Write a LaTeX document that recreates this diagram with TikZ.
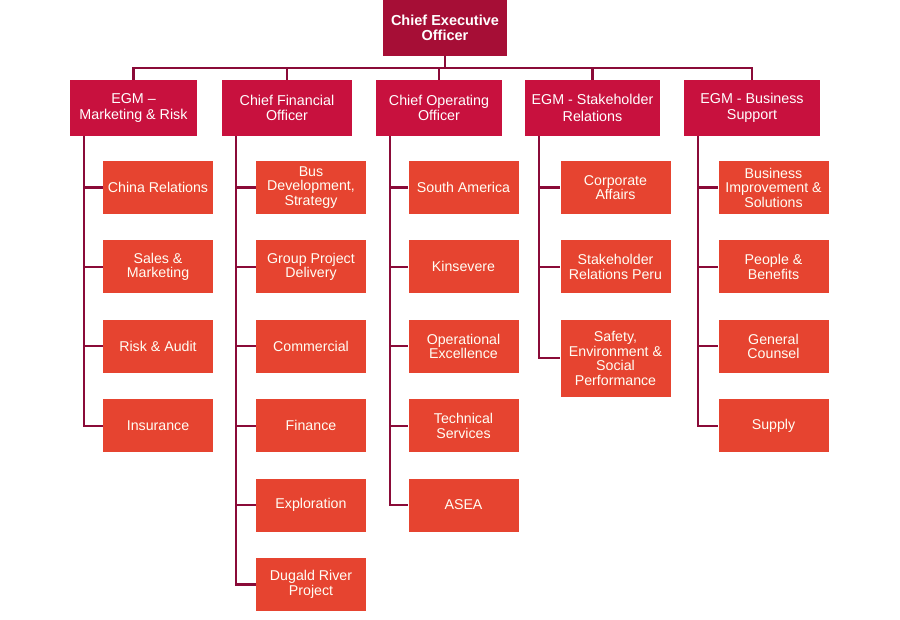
\documentclass[tikz,border=0pt]{standalone}
\usepackage{fontspec}
\setmainfont{Liberation Sans}
\usepackage{tikz}
\usetikzlibrary{calc, positioning}
\definecolor{ceoRed}{HTML}{A60E36}
\definecolor{headRed}{HTML}{C8113E}
\definecolor{unitRed}{HTML}{E64430}
\definecolor{linkMaroon}{HTML}{8A0B38}
\tikzset{
  ceobox/.style  = {fill=ceoRed, text=white, align=center, inner sep=2pt,
                    font=\fontsize{14.5}{15.5}\selectfont\bfseries,
                    minimum width=124pt, minimum height=56pt},
  head/.style    = {fill=headRed, text=white, align=center, inner sep=2pt,
                    font=\fontsize{14.3}{15.5}\selectfont, minimum height=56pt},
  unit/.style    = {fill=unitRed, text=white!96!yellow, align=center, inner sep=2pt,
                    font=\fontsize{14.2}{14.5}\selectfont,
                    minimum width=110pt, minimum height=53pt},
  link/.style    = {draw=linkMaroon, line width=2.2pt}
}
\begin{document}
\begin{tikzpicture}[x=1pt, y=1pt, node distance=26pt]
  \useasboundingbox (0,0) rectangle (900,-620);

  % top of the chart
  \node[ceobox] (ceo) at (445,-28) {Chief Executive\\Officer};
  \node[head, minimum width=127pt] (mr)  at (133.5,-108) {EGM --\\Marketing \& Risk};
  \node[head, minimum width=130pt] (cfo) at (287,-108)   {Chief Financial\\Officer};
  \node[head, minimum width=126pt] (coo) at (439,-108)   {Chief Operating\\Officer};
  \node[head, minimum width=135pt] (sr)  at (592.5,-108) {EGM - Stakeholder\\[2pt]Relations};
  \node[head, minimum width=136pt] (bs)  at (752,-108)   {EGM - Business\\Support};

  % marketing & risk
  \node[unit] (mr1) at (158,-187.5) {China Relations};
  \node[unit, below=of mr1] (mr2) {Sales \&\\Marketing};
  \node[unit, below=of mr2] (mr3) {Risk \& Audit};
  \node[unit, below=of mr3] (mr4) {Insurance};

  % finance
  \node[unit] (cf1) at (311,-187.5) {Bus\\Development,\\Strategy};
  \node[unit, below=of cf1] (cf2) {Group Project\\Delivery};
  \node[unit, below=of cf2] (cf3) {Commercial};
  \node[unit, below=of cf3] (cf4) {Finance};
  \node[unit, below=of cf4] (cf5) {Exploration};
  \node[unit, below=of cf5] (cf6) {Dugald River\\Project};

  % operations
  \node[unit] (co1) at (463.5,-187.5) {South America};
  \node[unit, below=of co1] (co2) {Kinsevere};
  \node[unit, below=of co2] (co3) {Operational\\Excellence};
  \node[unit, below=of co3] (co4) {Technical\\Services};
  \node[unit, below=of co4] (co5) {ASEA};

  % stakeholder relations
  \node[unit] (st1) at (615.5,-187.5) {Corporate\\Affairs};
  \node[unit, below=of st1] (st2) {Stakeholder\\Relations Peru};
  \node[unit, below=of st2, minimum height=77pt] (st3) {Safety,\\Environment \&\\Social\\Performance};

  % business support
  \node[unit] (bs1) at (773.5,-187.5) {Business\\Improvement \&\\Solutions};
  \node[unit, below=of bs1] (bs2) {People \&\\Benefits};
  \node[unit, below=of bs2] (bs3) {General\\Counsel};
  \node[unit, below=of bs3] (bs4) {Supply};

  % connectors
  \coordinate (bar) at ([yshift=-12pt]ceo.south);
  \draw[link] (ceo.south) -- (bar);
  \draw[link] (mr.north) |- (bs.north |- bar) -- (bs.north);
  \foreach \m in {cfo, coo, sr} \draw[link] (\m.north) -- (\m.north |- bar);

  \foreach \h/\last/\rest in {mr/mr4/{mr1,mr2,mr3},
                              cfo/cf6/{cf1,cf2,cf3,cf4,cf5},
                              coo/co5/{co1,co2,co3,co4},
                              sr/st3/{st1,st2},
                              bs/bs4/{bs1,bs2,bs3}} {
    \coordinate (t) at ([xshift=14pt]\h.south west);
    \draw[link] (t) |- (\last.west);
    \foreach \c in \rest \draw[link] (t |- \c.west) -- (\c.west);
  }
\end{tikzpicture}
\end{document}
